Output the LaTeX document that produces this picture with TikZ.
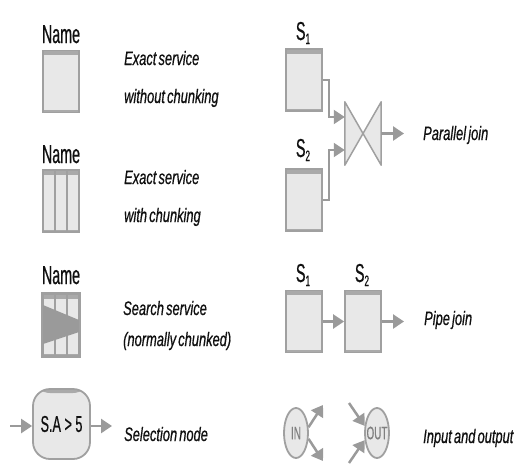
\documentclass[tikz,border=0pt]{standalone}
\usepackage{fontspec}
\setmainfont{Liberation Sans}
\newfontfamily\labfont[FakeStretch=0.55,FakeBold=0.6]{Liberation Sans}
\newfontfamily\descfont[FakeStretch=0.66,WordSpace=0.6,FakeBold=0.6]{Liberation Sans}
\usetikzlibrary{arrows.meta,shapes.geometric}
\definecolor{boxfill}{HTML}{E8E8E8}
\definecolor{edgegray}{HTML}{A0A0A0}
\definecolor{bandgray}{HTML}{AAAAAA}
\definecolor{arrowgray}{HTML}{9A9A9A}
\definecolor{txt}{HTML}{101010}
\begin{document}
\begin{tikzpicture}[x=1pt,y=-1pt,
  svc/.style={draw=edgegray, line width=1.8pt, fill=boxfill, minimum width=36pt, minimum height=62pt, inner sep=0pt,
    path picture={\fill[bandgray] (path picture bounding box.north west) rectangle ([yshift=-4.5pt]path picture bounding box.north east);
                  \fill[bandgray] ([yshift=2.5pt]path picture bounding box.south west) rectangle (path picture bounding box.south east);}},
  selbox/.style={draw=edgegray, line width=1.8pt, fill=boxfill, rounded corners=17pt, minimum width=57pt, minimum height=70pt, inner sep=0pt,
    font=\labfont\fontsize{23}{23}\selectfont, text=txt,
    path picture={\fill[bandgray] (path picture bounding box.north west) rectangle ([yshift=-4pt]path picture bounding box.north east);}},
  ell/.style={ellipse, draw=edgegray, line width=1.8pt, fill=boxfill, minimum width=24pt, minimum height=50pt, inner sep=0pt,
    text=gray, font=\labfont\fontsize{18}{18}\selectfont},
  conn/.style={draw=arrowgray, line width=2.5pt},
  thinconn/.style={draw=arrowgray, line width=2pt},
  tip/.style={-{Triangle[length=11pt,width=14pt]}},
  lab/.style={font=\labfont\fontsize{26}{26}\selectfont, anchor=base, text=txt, inner sep=0pt},
  desc/.style={font=\descfont\itshape\fontsize{19.5}{19.5}\selectfont, anchor=base west, text=txt, inner sep=0pt},
  divider/.style={draw=edgegray, line width=1.5pt}
]
\useasboundingbox (0,0) rectangle (522,466);

% ---------- Exact service without chunking
\node[lab] (n1) at (61,43) {Name};
\node[svc] (b1) at (61,81.5) {};
\node[desc] (d1a) at (124,65) {Exact service};
\node[desc] (d1b) at (124,103) {without chunking};

% ---------- Exact service with chunking
\node[lab] (n2) at (61,163) {Name};
\node[svc] (b2) at (61,201) {};
\draw[divider] ([xshift=-6pt]b2.north) -- ([xshift=-6pt]b2.south);
\draw[divider] ([xshift=6pt]b2.north) -- ([xshift=6pt]b2.south);
\node[desc] (d2a) at (124,184) {Exact service};
\node[desc] (d2b) at (124,222) {with chunking};

% ---------- Search service
\node[lab] (n3) at (61,284) {Name};
\node[svc] (b3) at (61,325) {};
\draw[divider] ([xshift=-6pt]b3.north) -- ([xshift=-6pt]b3.south);
\draw[divider] ([xshift=6pt]b3.north) -- ([xshift=6pt]b3.south);
\fill[arrowgray] (43,305) -- (79,320) -- (79,332) -- (43,344) -- cycle;
\draw[draw=edgegray, line width=1.8pt] (b3.north west) rectangle (b3.south east);
\node[desc] (d3a) at (123,315) {Search service};
\node[desc] (d3b) at (123,346) {(normally chunked)};

% ---------- Selection node
\node[selbox] (sel) at (61.5,424) {S.A > 5};
\coordinate (selin) at (10,426);
\coordinate (selout) at (112,426);
\draw[conn,tip] (selin) -- (sel.west |- selin);
\draw[conn,tip] (sel.east |- selout) -- (selout);
\node[desc] (d4) at (124,441) {Selection node};

% ---------- Parallel join
\node[lab] (s1l) at (303,40) {S\raisebox{-4pt}{\fontsize{15}{15}\selectfont 1}};
\node[svc] (s1) at (304,80) {};
\node[lab] (s2l) at (303,157) {S\raisebox{-4pt}{\fontsize{15}{15}\selectfont 2}};
\node[svc] (s2) at (304,200) {};
\node[minimum width=36pt, minimum height=63pt, inner sep=0pt] (bt) at (363,133.5) {};
\filldraw[fill=boxfill, draw=edgegray, line width=1.5pt, line join=round]
  (bt.north west) -- (bt.south west) -- (bt.center) -- cycle
  (bt.north east) -- (bt.south east) -- (bt.center) -- cycle;
\draw[thinconn,tip] (s1.east) -- ++(6,0) |- ([yshift=16.5pt]bt.west);
\draw[thinconn,tip] (s2.east) -- ++(6,0) |- ([yshift=-16.5pt]bt.west);
\coordinate (pjout) at (404,133.5);
\draw[conn,tip] (bt.east) -- (pjout);
\node[desc] (d5) at (423,140) {Parallel join};

% ---------- Pipe join
\node[lab] (p1l) at (303,282) {S\raisebox{-4pt}{\fontsize{15}{15}\selectfont 1}};
\node[svc] (p1) at (304,321.5) {};
\node[lab] (p2l) at (362,282) {S\raisebox{-4pt}{\fontsize{15}{15}\selectfont 2}};
\node[svc] (p2) at (363,321.5) {};
\draw[conn,tip] (p1.east) -- (p2.west);
\coordinate (ppout) at (404,321.5);
\draw[conn,tip] (p2.east) -- (ppout);
\node[desc] (d6) at (424,325) {Pipe join};

% ---------- Input and output
\node[ell] (in) at (296,433) {\makebox[0pt]{IN}};
\coordinate (in1) at (323,405);
\coordinate (in2) at (323,461);
\draw[conn,tip] (in.25) -- (in1);
\draw[conn,tip] (in.-25) -- (in2);
\node[ell] (out) at (377,433) {\makebox[0pt]{OUT}};
\coordinate (o1) at (349,403);
\coordinate (o2) at (349,463);
\draw[conn,tip] (o1) -- (out.150);
\draw[conn,tip] (o2) -- (out.210);
\node[desc] (d7) at (423,443) {Input and output};
\end{tikzpicture}
\end{document}
